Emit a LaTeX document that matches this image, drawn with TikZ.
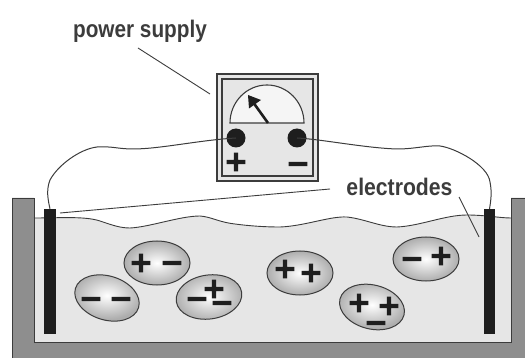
\documentclass[tikz,border=0pt]{standalone}
\usepackage{fontspec}
\setmainfont{Liberation Sans}
\newfontfamily\symfont[FakeBold=4]{DejaVu Sans Bold}
\newcommand{\mnsign}{\vphantom{+}−}
\usetikzlibrary{shapes.geometric}
\definecolor{wallgray}{HTML}{8E8E8E}
\definecolor{watergray}{HTML}{E6E6E6}
\definecolor{inkdark}{HTML}{1E1E1E}
\definecolor{linegray}{HTML}{3C3C3C}
\tikzset{
  labeltext/.style={inner sep=0pt,text=linegray,font=\fontsize{24}{28}\selectfont\bfseries},
  leader/.style={draw=linegray,line width=0.9pt},
  wire/.style={draw=linegray,line width=1pt},
  electrode/.style={rectangle,fill=inkdark,inner sep=0pt,minimum width=11.5pt,minimum height=125pt},
  terminal/.style={circle,fill=inkdark,inner sep=0pt,minimum size=19pt},
  ion/.style={ellipse,draw=linegray,line width=1pt,inner sep=0pt,minimum width=66pt,minimum height=44pt,shade,shading=radial,inner color=white,outer color=black!32},
  sym/.style={inner sep=0pt,text=inkdark,font=\symfont\fontsize{28}{28}\selectfont},
}
\begin{document}
\begin{tikzpicture}[x=1pt,y=-1pt]
\useasboundingbox (0,0) rectangle (525,358);
% tank
\fill[wallgray] (12,198) -- (34,198) -- (34,342) -- (511,342) -- (511,198) -- (525,198) -- (525,358) -- (12,358) -- cycle;
\fill[watergray] (34,218) .. controls (60,218) and (85,216) .. (100,221)
  .. controls (112,225) and (120,228) .. (130,228)
  .. controls (150,227) and (180,216) .. (200,216)
  .. controls (212,217) and (218,222) .. (235,224)
  .. controls (250,226) and (265,227) .. (280,227)
  .. controls (305,226) and (330,216) .. (347,217)
  .. controls (365,219) and (380,227) .. (397,227)
  .. controls (420,226) and (445,215) .. (467,215)
  .. controls (485,215) and (500,218) .. (511,218)
  -- (511,342) -- (34,342) -- cycle;
\draw[linegray,line width=0.9pt] (34,218) .. controls (60,218) and (85,216) .. (100,221)
  .. controls (112,225) and (120,228) .. (130,228)
  .. controls (150,227) and (180,216) .. (200,216)
  .. controls (212,217) and (218,222) .. (235,224)
  .. controls (250,226) and (265,227) .. (280,227)
  .. controls (305,226) and (330,216) .. (347,217)
  .. controls (365,219) and (380,227) .. (397,227)
  .. controls (420,226) and (445,215) .. (467,215)
  .. controls (485,215) and (500,218) .. (511,218);
\draw[linegray,line width=0.9pt] (12,358) -- (12,198) -- (34,198) -- (34,342) -- (511,342) -- (511,198) -- (525,198);
% electrodes
\node[electrode] (elL) at (50,271.5) {};
\node[electrode] (elR) at (489.5,271.5) {};
% power supply
\node[rectangle,draw=linegray,line width=1.1pt,fill=watergray,minimum width=101pt,minimum height=107pt,inner sep=0pt] (psu) at (267.5,127.5) {};
\node[rectangle,draw=linegray,line width=1.1pt,minimum width=91pt,minimum height=97pt,inner sep=0pt] (psuin) at (267.5,127.5) {};
\fill[white!60!watergray] (230,123) arc[start angle=180,end angle=0,x radius=37pt,y radius=38pt] -- cycle;
\draw[linegray,line width=1.1pt] (230,123) arc[start angle=180,end angle=0,x radius=37pt,y radius=38pt] -- cycle;
\coordinate (needleBase) at (268,123);
\coordinate (needleTip) at (248,95);
\draw[inkdark,line width=2.6pt] (needleBase) -- (254,103.5);
\fill[inkdark] (needleTip) -- (261,100) -- (249,108.5) -- cycle;
\node[terminal] (dotL) at (236,138) {};
\node[terminal] (dotR) at (297,138) {};
\node[sym] (psuPlus) at (236,162) {+};
\node[sym] (psuMinus) at (298,164) {\mnsign};
% wires
\draw[wire] (dotL.center) .. controls (200,140) and (160,149) .. (133,149)
  .. controls (118,149) and (112,146) .. (97,147)
  .. controls (80,149) and (58,165) .. (50,180)
  .. controls (46,190) and (48,200) .. (elL.north);
\draw[wire] (dotR.center) .. controls (320,139) and (365,148) .. (397,149)
  .. controls (415,149) and (428,145) .. (440,146)
  .. controls (455,148) and (488,165) .. (490,182)
  .. controls (492,192) and (491,200) .. (elR.north);
% labels
\node[labeltext,anchor=center] (lblPower) at (140,31) {\scalebox{0.865}[1]{power supply}};
\node[labeltext,anchor=center] (lblElec) at (399.5,186.5) {\scalebox{0.883}[1]{electrodes}};
\coordinate (psStart) at (138,48);
\coordinate (psEnd) at (210,94);
\draw[leader] (psStart) -- (psEnd);
\coordinate (elecA) at (330,189);
\coordinate (elecAend) at (60,213);
\draw[leader] (elecA) -- (elecAend);
\coordinate (elecB) at (459,197);
\coordinate (elecBend) at (479,237);
\draw[leader] (elecB) -- (elecBend);
% ions
\node[ion] (ionA) at (157,263) {};
\node[ion,rotate=-17] (ionB) at (107,298) {};
\node[ion,rotate=8] (ionC) at (209,297) {};
\node[ion] (ionD) at (300,273) {};
\node[ion,rotate=-14] (ionE) at (372,307) {};
\node[ion] (ionF) at (426,259) {};
\node[sym] (s1) at (141,263) {+};
\node[sym] (s2) at (172,263) {\mnsign};
\node[sym] (s3) at (91,299) {\mnsign};
\node[sym] (s4) at (121,299) {\mnsign};
\node[sym] (s5) at (197,299) {\mnsign};
\node[sym] (s6) at (214,289) {+};
\node[sym] (s7) at (222,303) {\mnsign};
\node[sym] (s8) at (285,269) {+};
\node[sym] (s9) at (311,273) {+};
\node[sym] (s10) at (359,303) {+};
\node[sym] (s11) at (389,306) {+};
\node[sym] (s12) at (376,323) {\mnsign};
\node[sym] (s13) at (412,259) {\mnsign};
\node[sym] (s14) at (441,256) {+};
\end{tikzpicture}
\end{document}
